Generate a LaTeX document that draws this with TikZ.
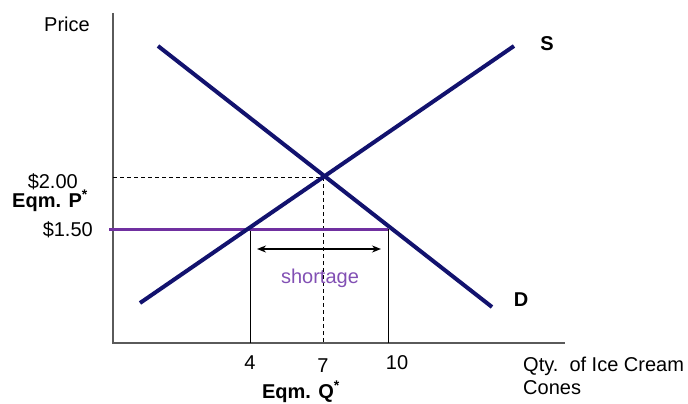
\documentclass[tikz,border=0pt]{standalone}
\usepackage{fontspec}
\setmainfont{Liberation Sans}
\usetikzlibrary{arrows.meta}
\definecolor{navy}{RGB}{18,18,110}
\definecolor{purp}{RGB}{112,48,160}
\definecolor{shortc}{RGB}{130,80,180}
\definecolor{axisc}{RGB}{90,90,90}
\begin{document}
\begin{tikzpicture}[x=1pt,y=-1pt,
  lbl/.style={font=\fontsize{20}{23}\selectfont, inner sep=0pt},
  blbl/.style={font=\fontsize{20}{23}\selectfont\bfseries, inner sep=0pt},
  curve/.style={navy, line width=4pt},
  axisline/.style={axisc, line width=1.3pt},
  guide/.style={black, line width=0.8pt},
  dguide/.style={black, line width=0.8pt, dash pattern=on 4pt off 3pt}]
\useasboundingbox (0,0) rectangle (688,404);
% axes
\coordinate (ytop) at (113,13);
\coordinate (orig) at (113,343);
\coordinate (xend) at (565,343);
\draw[axisline] (ytop) -- (orig) -- (xend);
% key points
\coordinate (eq) at (323,177);
\coordinate (eqy) at (113,177);
\coordinate (eqx) at (323,343);
\coordinate (pl) at (109,229);
\coordinate (qs) at (250,229);
\coordinate (qd) at (388,229);
\coordinate (qsx) at (250,343);
\coordinate (qdx) at (388,343);
% guides
\draw[dguide] (eqy) -- (eq) -- (eqx);
\draw[guide] (qs) -- (qsx);
\draw[guide] (qd) -- (qdx);
\draw[purp, line width=3pt] (pl) -- (qd);
% curves
\coordinate (s1) at (140,303);
\coordinate (s2) at (514,46);
\coordinate (d1) at (158,46);
\coordinate (d2) at (492,307);
\draw[curve] (s1) -- (s2);
\draw[curve] (d1) -- (d2);
% shortage arrow
\coordinate (a1) at (257,249);
\coordinate (a2) at (381,249);
\draw[black, line width=1.5pt, {Stealth[length=9pt,width=7pt]}-{Stealth[length=9pt,width=7pt]}] (a1) -- (a2);
\node[lbl, text=shortc] (short) at (320,278) {shortage};
% labels
\node[lbl, anchor=east] (price) at (90,24) {Price};
\node[lbl, anchor=east] (p2) at (78,182) {\$2.00};
\node[blbl, anchor=east] (eqp) at (88,201) {Eqm. P\textsuperscript{*}};
\node[lbl, anchor=east] (p15) at (93,230) {\$1.50};
\node[blbl] (S) at (547,44) {S};
\node[blbl] (D) at (521,300) {D};
\node[lbl] (q4) at (250,363) {4};
\node[lbl] (q7) at (323,366) {7};
\node[lbl] (q10) at (397,363) {10};
\node[blbl] (eqq) at (301,392) {Eqm. Q\textsuperscript{*}};
\node[lbl, anchor=west, align=left] (qty) at (523,376) {Qty.\ \ of Ice Cream\\Cones};
\end{tikzpicture}
\end{document}
